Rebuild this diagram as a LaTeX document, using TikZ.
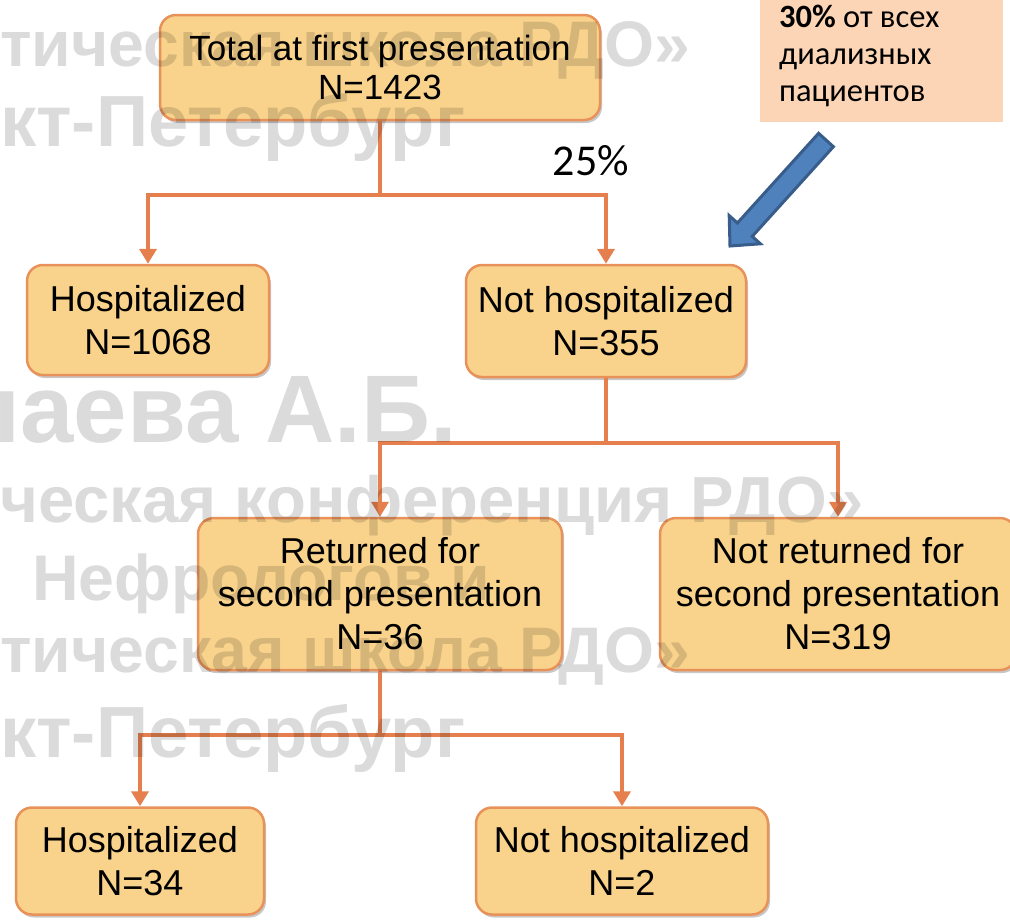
\documentclass[tikz,border=0pt]{standalone}
\usepackage{fontspec}
\usepackage{graphicx}
\setmainfont{Liberation Sans}
\newfontfamily\calfont{Carlito}
\newfontfamily\wmfont{Liberation Sans}
\usetikzlibrary{arrows.meta,shadows}
\definecolor{boxfill}{HTML}{F9D38C}
\definecolor{boxline}{HTML}{E8925A}
\definecolor{conn}{HTML}{E57F4D}
\definecolor{peach}{HTML}{FBD5B5}
\definecolor{bluefill}{HTML}{4F81BD}
\definecolor{blueline}{HTML}{385D8A}
\begin{document}
\begin{tikzpicture}[x=1pt,y=-1pt,
  fbox/.style={draw=boxline, line width=2.5pt, fill=boxfill, rounded corners=16pt,
    inner sep=0pt, align=center, font=\fontsize{36}{43}\selectfont,
    drop shadow={shadow xshift=2pt,shadow yshift=-3pt,fill=black,opacity=0.22}},
  link/.style={draw=conn, line width=4pt},
  linkarrow/.style={link, -{Triangle[width=17pt,length=15pt]}},
  notetext/.style={anchor=base west, inner sep=0pt, font=\calfont\fontsize{32.5}{38}\selectfont},
  wm/.style={inner sep=0pt, text=black, text opacity=0.14, font=\wmfont\bfseries}]
\useasboundingbox (0,0) rectangle (1010,922);
\clip (0,0) rectangle (1010,922);
% annotation
\node[fill=peach, minimum width=243pt, minimum height=122pt, anchor=north west, inner sep=0pt] (note) at (760,0) {};
\node[notetext] (note1) at (779,27) {\textbf{30\%} от всех};
\node[notetext] (note2) at (779,64) {диализных};
\node[notetext] (note3) at (779,101) {пациентов};
\node[anchor=base, inner sep=0pt, font=\calfont\fontsize{44}{50}\selectfont] (pct) at (591,175) {25\%};
% blue arrow
\draw[fill=bluefill, draw=blueline, line width=3pt, line join=miter]
  (833.4,146.7) -- (752.2,236.4) -- (760.4,243.8) -- (730,246) -- (729.2,215.6)
  -- (737.4,223.0) -- (818.6,133.3) -- cycle;
% boxes
\node[fbox, minimum width=440pt, minimum height=105pt, font=\fontsize{35}{39}\selectfont] (top) at (380,67.5) {Total at first presentation\\N=1423};
\node[fbox, minimum width=242pt, minimum height=110pt] (h1) at (148,320) {Hospitalized\\N=1068};
\node[fbox, minimum width=280pt, minimum height=112pt] (n1) at (606,321) {Not hospitalized\\N=355};
\node[fbox, minimum width=364pt, minimum height=152pt] (r2) at (380,594) {Returned for\\second presentation\\N=36};
\node[fbox, minimum width=356pt, minimum height=152pt] (nr) at (838,594) {Not returned for\\second presentation\\N=319};
\node[fbox, minimum width=248pt, minimum height=107pt] (h3) at (140,861) {Hospitalized\\N=34};
\node[fbox, minimum width=292pt, minimum height=107pt] (n3) at (622,861) {Not hospitalized\\N=2};
% connectors
\coordinate (j1) at (380,195);
\coordinate (j2) at (606,443);
\coordinate (j3) at (380,735);
\draw[link] (top.south) -- (j1);
\draw[linkarrow] (j1) -| (h1.north);
\draw[linkarrow] (j1) -| (n1.north);
\draw[link] (n1.south) -- (j2);
\draw[linkarrow] (j2) -| (r2.north);
\draw[linkarrow] (j2) -| (nr.north);
\draw[link] (r2.south) -- (j3);
\draw[linkarrow] (j3) -| (h3.north);
\draw[linkarrow] (j3) -| (n3.north);
% watermark
\node[wm, anchor=base west] (wmA) at (0,66) {\resizebox{690pt}{!}{тическая школа РДО»}};
\node[wm, anchor=base west] (wmB) at (0,146) {\resizebox{465pt}{!}{кт-Петербург}};
\node[wm, anchor=base east, font=\wmfont\bfseries\fontsize{96}{100}\selectfont] (wmC) at (457,442) {лаева А.Б.};
\node[wm, anchor=base west] (wmD) at (0,522) {\resizebox{863pt}{!}{ческая конференция РДО»}};
\node[wm, anchor=base west] (wmE) at (32,600) {\resizebox{458pt}{!}{Нефрологов и}};
\node[wm, anchor=base west] (wmF) at (0,672) {\resizebox{690pt}{!}{тическая школа РДО»}};
\node[wm, anchor=base west] (wmG) at (0,757) {\resizebox{465pt}{!}{кт-Петербург}};
\end{tikzpicture}
\end{document}
